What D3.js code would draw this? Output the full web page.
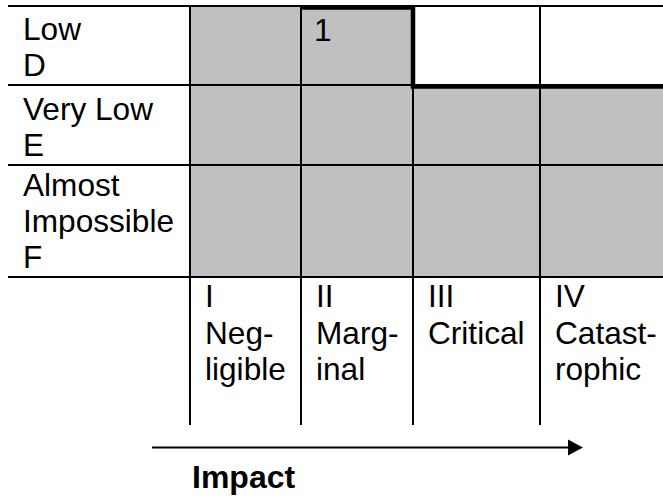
<!DOCTYPE html>
<html>
<head>
<meta charset="utf-8">
<script src="https://cdn.jsdelivr.net/npm/d3@7"></script>
<style>
  body { margin: 0; background: #fff; }
  svg { display: block; }
  text { font-family: "Liberation Sans", Arial, sans-serif; font-size: 31.6px; fill: #000; }
</style>
</head>
<body>
<svg id="chart" width="663" height="499"></svg>
<script>
// likelihood rows (top to bottom), impact columns (left to right)
var likelihood = ['Low\nD', 'Very Low\nE', 'Almost\nImpossible\nF'];
var impact = ['I\nNeg-\nligible', 'II\nMarg-\ninal', 'III\nCritical', 'IV\nCatast-\nrophic'];
// 1 = shaded cell, 0 = white cell
var shaded = [
  [1, 1, 0, 0],
  [1, 1, 1, 1],
  [1, 1, 1, 1]
];
var cellNumbers = [
  ['', '1', '', ''],
  ['', '', '', ''],
  ['', '', '', '']
];
// columns the risk border runs across
var borderCols = [1, 2, 3];
var axisTitle = 'Impact';

// layout
var colEdges = [8, 190, 301, 413, 540, 667];
var rowEdges = [6, 85, 165, 277, 425];
var lineH = 36;

var svg = d3.select('#chart');

var x = d3.scaleOrdinal().domain(d3.range(impact.length + 1)).range(colEdges.slice(1));
var y = d3.scaleOrdinal().domain(d3.range(likelihood.length + 1)).range(rowEdges);

// cells
var cells = [];
shaded.forEach(function(row, r) {
  row.forEach(function(s, c) {
    cells.push({r: r, c: c, s: s, n: cellNumbers[r][c]});
  });
});

svg.selectAll('rect.cell')
  .data(cells)
  .enter()
  .append('rect')
  .attr('class', 'cell')
  .attr('x', function(d) { return x(d.c); })
  .attr('y', function(d) { return y(d.r); })
  .attr('width', function(d) { return x(d.c + 1) - x(d.c); })
  .attr('height', function(d) { return y(d.r + 1) - y(d.r); })
  .attr('fill', function(d) { return d.s ? '#c0c0c0' : '#fff'; });

// grid lines
var hLines = d3.range(likelihood.length + 1).map(function(r) { return y(r); });
svg.selectAll('line.h')
  .data(hLines)
  .enter()
  .append('line')
  .attr('x1', colEdges[0])
  .attr('x2', colEdges[colEdges.length - 1])
  .attr('y1', function(d) { return d; })
  .attr('y2', function(d) { return d; })
  .attr('stroke', '#000')
  .attr('stroke-width', 2);

svg.selectAll('line.v')
  .data(d3.range(impact.length))
  .enter()
  .append('line')
  .attr('x1', function(d) { return x(d); })
  .attr('x2', function(d) { return x(d); })
  .attr('y1', rowEdges[0])
  .attr('y2', rowEdges[rowEdges.length - 1])
  .attr('stroke', '#000')
  .attr('stroke-width', 2);

// risk border: below the white cells of each column
var pts = [];
borderCols.forEach(function(c) {
  var white = 0;
  while (white < shaded.length && !shaded[white][c]) white++;
  var yb = y(white) + 1.5;
  pts.push([x(c), yb], [x(c + 1), yb]);
});
svg.append('path')
  .attr('d', d3.line()(pts))
  .attr('fill', 'none')
  .attr('stroke', '#000')
  .attr('stroke-width', 4.5);

// row labels, bottom aligned in the cell
likelihood.forEach(function(lab, r) {
  var lines = lab.split('\n');
  var t = svg.append('text').attr('x', colEdges[0] + 15);
  lines.forEach(function(l, k) {
    t.append('tspan')
      .attr('x', colEdges[0] + 15)
      .attr('y', y(r + 1) - 9 - (lines.length - 1 - k) * lineH)
      .text(l);
  });
});

// cell numbers
svg.selectAll('text.num')
  .data(cells.filter(function(d) { return d.n; }))
  .enter()
  .append('text')
  .attr('x', function(d) { return x(d.c) + 13; })
  .attr('y', function(d) { return y(d.r) + 35; })
  .text(function(d) { return d.n; });

// impact labels, top aligned
impact.forEach(function(lab, c) {
  var t = svg.append('text');
  lab.split('\n').forEach(function(l, k) {
    t.append('tspan')
      .attr('x', x(c) + 15)
      .attr('y', y(likelihood.length) + 30 + k * 36.6)
      .text(l);
  });
});

// arrow
svg.append('line')
  .attr('x1', 152).attr('x2', 569)
  .attr('y1', 447.5).attr('y2', 447.5)
  .attr('stroke', '#000')
  .attr('stroke-width', 2);
svg.append('path')
  .attr('d', 'M568,439.5L583,447.5L568,455.5Z')
  .attr('fill', '#000');

svg.append('text')
  .attr('x', 192)
  .attr('y', 488)
  .attr('font-weight', 'bold')
  .style('font-size', '32px')
  .text(axisTitle);
</script>
</body>
</html>
